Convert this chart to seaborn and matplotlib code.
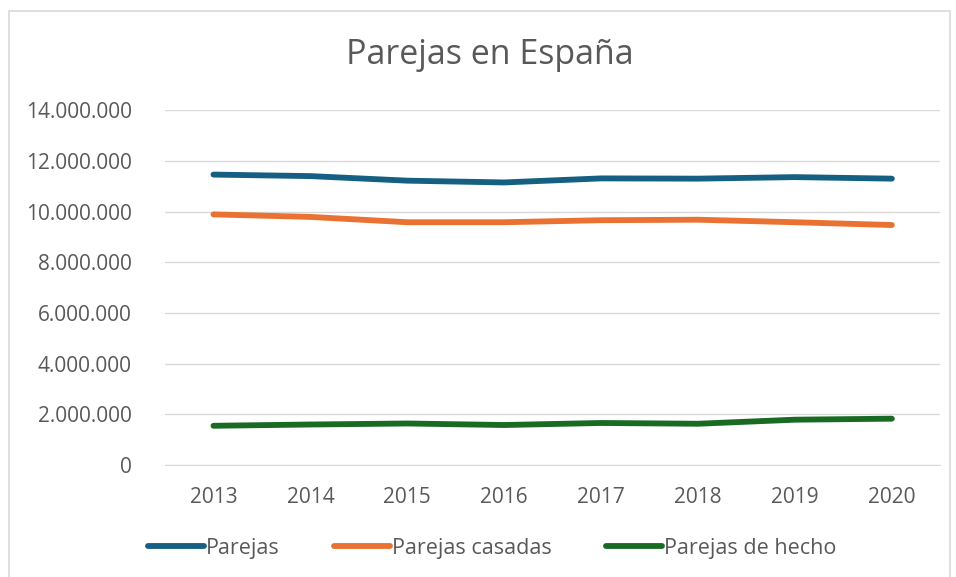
import pandas as pd
import numpy as np
import matplotlib.pyplot as plt
import matplotlib.ticker as mticker
from matplotlib.patches import Rectangle
import seaborn as sns

# ── Data ──────────────────────────────────────────────────
years = [2013, 2014, 2015, 2016, 2017, 2018, 2019, 2020]
parejas = [11460000, 11400000, 11220000, 11150000, 11310000, 11300000, 11360000, 11300000]
casadas = [9890000, 9790000, 9580000, 9580000, 9660000, 9680000, 9580000, 9470000]
hecho = [1550000, 1600000, 1640000, 1580000, 1660000, 1630000, 1790000, 1830000]
series_names = ['Parejas', 'Parejas casadas', 'Parejas de hecho']
colors = ['#156082', '#E97132', '#196B24']

df = pd.DataFrame({
    'Año': [str(y) for y in years] * 3,
    'Valor': parejas + casadas + hecho,
    'Serie': np.repeat(series_names, len(years)),
})

# ── Style ─────────────────────────────────────────────────
sns.set_style('white')
plt.rcParams['font.family'] = ['Open Sans', 'DejaVu Sans']
txt = '#595959'

fig = plt.figure(figsize=(9.56, 5.77), dpi=100)
ax = fig.add_axes([0.1726, 0.194, 0.811, 0.615])

sns.lineplot(data=df, x='Año', y='Valor', hue='Serie', palette=colors,
             linewidth=4.2, ax=ax, sort=False)
for line in ax.lines:
    line.set_solid_capstyle('round')

ax.set_ylim(0, 14000000)
ax.set_xlim(-0.5, len(years) - 0.5)
ax.yaxis.set_major_locator(mticker.MultipleLocator(2000000))
ax.yaxis.set_major_formatter(mticker.FuncFormatter(lambda v, p: f'{int(v):,}'.replace(',', '.')))
ax.grid(axis='y', color='#d9d9d9', linewidth=1)
ax.set_axisbelow(True)
for s in ['top', 'right', 'left']:
    ax.spines[s].set_visible(False)
ax.spines['bottom'].set_color('#d9d9d9')
ax.tick_params(axis='both', length=0, labelsize=15, labelcolor=txt)
ax.tick_params(axis='y', pad=24)
ax.tick_params(axis='x', pad=16)
ax.set_xlabel('')
ax.set_ylabel('')

fig.text(0.512, 1 - 55 / 577, 'Parejas en España', fontsize=24.5, color=txt,
         ha='center', va='center')

handles, labels = ax.get_legend_handles_labels()
for h in handles:
    h.set_solid_capstyle('round')
ax.legend(handles, labels, loc='center', bbox_to_anchor=(0.422, -0.234), ncol=3,
          frameon=False, fontsize=15.5, labelcolor=txt, handlelength=2.6,
          handletextpad=0.1, columnspacing=2.5)

fig.patches.append(Rectangle((9 / 956, -0.01), 950 / 956 - 9 / 956, 1 - 11 / 577 + 0.01,
                             transform=fig.transFigure, fill=False,
                             edgecolor='#d9d9d9', linewidth=1.2))

plt.savefig('out.png', dpi=100, facecolor='white')
plt.close()
